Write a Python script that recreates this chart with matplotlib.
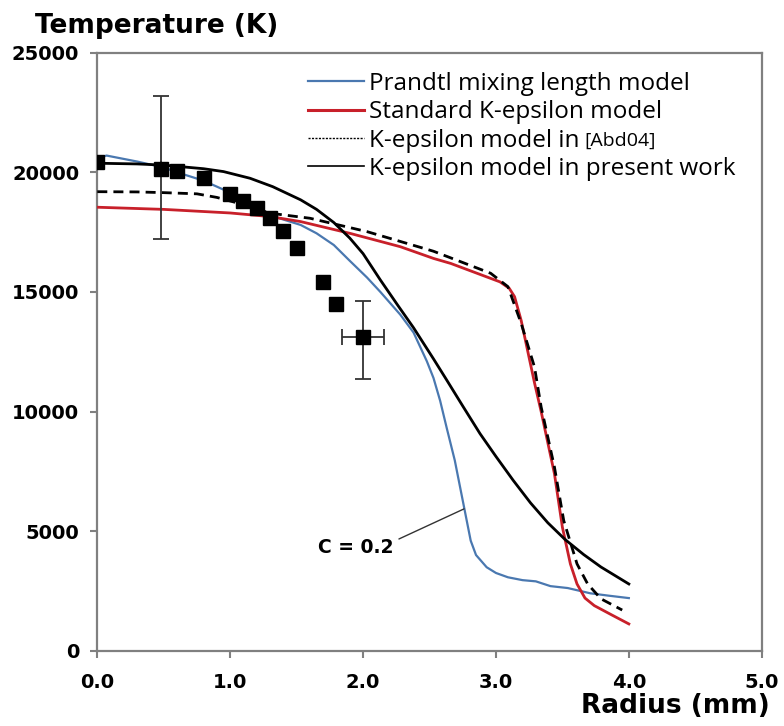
import matplotlib
matplotlib.use("Agg")
import matplotlib.pyplot as plt
from matplotlib.lines import Line2D

# experimental points (squares)
x_exp = [0.0, 0.48, 0.6, 0.8, 1.0, 1.1, 1.2, 1.3, 1.4, 1.5, 1.7, 1.8, 2.0]
T_exp = [20450, 20150, 20050, 19750, 19100, 18800, 18500, 18100, 17550, 16850, 15400, 14500, 13100]

# points carrying error bars
x_err_pts = [0.48, 2.0]
T_err_pts = [20150, 13100]
T_err_low = [2950, 1720]
T_err_high = [3050, 1530]
x_err = [0.0, 0.16]

# Prandtl mixing length model
x_prandtl = [0.0, 0.07, 0.3, 0.5, 0.6, 0.8, 1.0, 1.2, 1.3, 1.53, 1.65, 1.78, 1.9, 2.03, 2.13,
             2.28, 2.38, 2.48, 2.53, 2.58, 2.63, 2.69, 2.75, 2.81, 2.85, 2.93, 3.0, 3.09,
             3.2, 3.3, 3.41, 3.54, 3.71, 3.85, 4.0]
T_prandtl = [20600, 20700, 20450, 20200, 20000, 19650, 19150, 18550, 18200, 17800, 17450,
             16960, 16300, 15600, 15000, 14050, 13300, 12100, 11400, 10450, 9300, 7960,
             6280, 4600, 4000, 3490, 3250, 3070, 2950, 2900, 2700, 2620, 2400, 2300, 2200]

# Standard K-epsilon model
x_std = [0.0, 0.5, 1.0, 1.3, 1.53, 1.9, 2.28, 2.53, 2.66, 3.03, 3.1, 3.14, 3.19, 3.24,
         3.29, 3.34, 3.44, 3.5, 3.56, 3.61, 3.67, 3.74, 3.87, 4.0]
T_std = [18540, 18450, 18300, 18150, 17940, 17450, 16890, 16400, 16190, 15420, 15150,
         14800, 13800, 12500, 11200, 10000, 7400, 5160, 3630, 2790, 2200, 1885, 1500, 1120]

# K-epsilon model in [Abd04]
x_abd = [0.0, 0.3, 0.5, 0.75, 0.9, 1.1, 1.3, 1.6, 2.03, 2.53, 2.96, 3.09, 3.19, 3.29,
         3.34, 3.44, 3.51, 3.61, 3.69, 3.79, 3.95]
T_abd = [19190, 19180, 19150, 19100, 18950, 18650, 18290, 18080, 17520, 16700, 15780,
         15220, 13680, 11860, 10190, 7680, 5440, 3630, 2790, 2170, 1700]

# K-epsilon model in present work
x_present = [0.0, 0.3, 0.5, 0.8, 0.95, 1.15, 1.32, 1.53, 1.65, 1.78, 1.9, 2.0, 2.13, 2.26,
             2.38, 2.53, 2.63, 2.75, 2.88, 3.0, 3.13, 3.26, 3.39, 3.52, 3.66, 3.79, 4.0]
T_present = [20380, 20350, 20300, 20150, 20030, 19750, 19400, 18850, 18450, 17900, 17250,
             16600, 15500, 14450, 13500, 12200, 11310, 10230, 9075, 8120, 7120, 6180, 5350,
             4650, 4020, 3500, 2790]

labels = ["Prandtl mixing length model", "Standard K-epsilon model",
          "K-epsilon model in", "K-epsilon model in present work"]
x_ticks = [0.0, 1.0, 2.0, 3.0, 4.0, 5.0]
y_ticks = [0, 5000, 10000, 15000, 20000, 25000]

blue = "#4a78b0"
red = "#c8202a"

fig = plt.figure(figsize=(7.84, 7.26), dpi=100)
ax = fig.add_axes([0.1241, 0.1037, 0.8475, 0.8237])

ax.plot(x_prandtl, T_prandtl, color=blue, lw=1.6, zorder=3)
ax.plot(x_std, T_std, color=red, lw=2.0, zorder=3)
ax.plot(x_abd, T_abd, color="black", lw=2.0, dashes=(3.6, 2.2), zorder=3)
ax.plot(x_present, T_present, color="black", lw=2.0, zorder=3)

ax.errorbar(x_err_pts, T_err_pts, yerr=[T_err_low, T_err_high], xerr=x_err, fmt="none",
            ecolor="#333333", elinewidth=1.3, capsize=6, capthick=1.3, zorder=4)
ax.plot(x_exp, T_exp, "s", color="black", ms=10, zorder=5)

ax.annotate("C = 0.2", xy=(2.76, 5930), xytext=(2.23, 4330), ha="right", va="center",
            fontsize=13.5, fontweight="bold",
            arrowprops=dict(arrowstyle="-", color="#333333", lw=1.0, shrinkA=2, shrinkB=0,
                            relpos=(1.0, 0.8)))

ax.set_xlim(0, 5)
ax.set_ylim(0, 25000)
ax.set_xticks(x_ticks)
ax.set_xticklabels([f"{v:.1f}" for v in x_ticks])
ax.set_yticks(y_ticks)
ax.set_yticklabels([str(v) for v in y_ticks])
for lab in ax.get_xticklabels() + ax.get_yticklabels():
    lab.set_fontweight("bold")
ax.tick_params(axis="both", labelsize=14, color="#808080", width=1.5, length=5)
ax.tick_params(axis="x", pad=11)
ax.tick_params(axis="y", pad=8)
for sp in ax.spines.values():
    sp.set_color("#808080")
    sp.set_linewidth(1.6)

handles = [Line2D([], [], color=blue, lw=1.6),
           Line2D([], [], color=red, lw=2.2),
           Line2D([], [], color="black", lw=1.0, dashes=(1.5, 1.0)),
           Line2D([], [], color="black", lw=1.2)]
leg = ax.legend(handles, labels, loc="upper left", bbox_to_anchor=(0.317, 0.968),
                frameon=False, borderaxespad=0, borderpad=0, handlelength=2.3,
                handletextpad=0.2, labelspacing=0.18,
                prop={"family": "Open Sans", "size": 17.5})

fig.text(0.0446, 0.964, "Temperature (K)", fontsize=19, fontweight="bold",
         ha="left", va="center")
fig.text(0.982, 0.0275, "Radius (mm)", fontsize=19, fontweight="bold",
         ha="right", va="center")

# small reference tag after the third legend entry
fig.canvas.draw()
bb = leg.get_texts()[2].get_window_extent()
fx, fy = fig.transFigure.inverted().transform((bb.x1 + 5, (bb.y0 + bb.y1) / 2))
fig.text(fx, fy, "[Abd04]", fontsize=14, family="Open Sans", ha="left", va="center")

fig.savefig("out.png", dpi=100)
